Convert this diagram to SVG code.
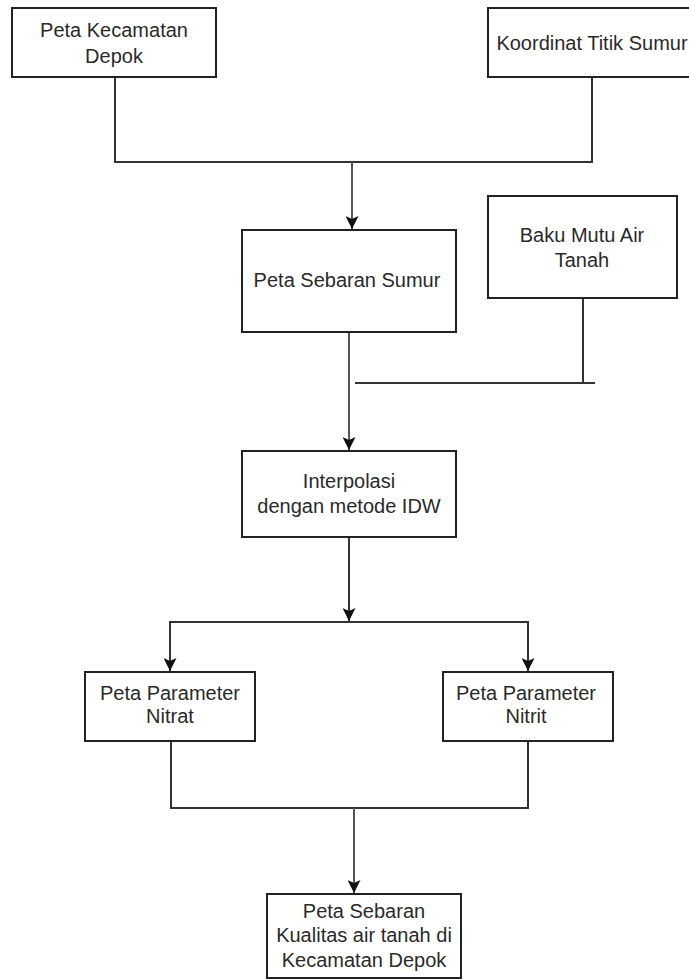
<svg xmlns="http://www.w3.org/2000/svg" width="689" height="979" viewBox="0 0 689 979">
<style>
.box{fill:#ffffff;stroke:#222222;stroke-width:2}
.ln{fill:none;stroke:#333333;stroke-width:2}
.ln2{fill:none;stroke:#555555;stroke-width:2}
.t{font-family:"Liberation Sans",Arial,sans-serif;font-size:20px;fill:#2a2a2a;text-anchor:middle}
</style>
<defs>
<marker id="arr" viewBox="0 0 13 13" refX="13" refY="6.5" markerWidth="13" markerHeight="13" markerUnits="userSpaceOnUse" orient="auto">
<path d="M0,0 L13,6.5 L0,13 L3,6.5 Z" fill="#111111"/>
</marker>
</defs>
<rect width="689" height="979" fill="#ffffff"/>
<g id="connectors">
<path class="ln" d="M115,77 V162 H592 V77"/>
<path class="ln2" d="M352,162 V229" marker-end="url(#arr)"/>
<path class="ln" d="M583,298 V383"/>
<path class="ln" d="M355,383 H595"/>
<path class="ln2" d="M349,332 V450" marker-end="url(#arr)"/>
<path class="ln" d="M349,537 V621" marker-end="url(#arr)"/>
<path class="ln" d="M170,671 V622 H528 V671" marker-end="url(#arr)"/>
<path class="ln" d="M170,622 V671" marker-end="url(#arr)"/>
<path class="ln" d="M171,741 V808 H528 V741"/>
<path class="ln2" d="M354,808 V893" marker-end="url(#arr)"/>
</g>
<g id="node-peta-kecamatan">
<rect class="box" x="12" y="8" width="204" height="69"/>
<text class="t" x="114" y="37">Peta Kecamatan</text>
<text class="t" x="114" y="63">Depok</text>
</g>
<g id="node-koordinat">
<rect class="box" x="488" y="8" width="210" height="69"/>
<text class="t" x="592" y="50">Koordinat Titik Sumur</text>
</g>
<g id="node-peta-sebaran-sumur">
<rect class="box" x="242" y="230" width="214" height="102"/>
<text class="t" x="347" y="287">Peta Sebaran Sumur</text>
</g>
<g id="node-baku-mutu">
<rect class="box" x="488" y="196" width="189" height="102"/>
<text class="t" x="582" y="242">Baku Mutu Air</text>
<text class="t" x="582" y="267">Tanah</text>
</g>
<g id="node-interpolasi">
<rect class="box" x="242" y="451" width="214" height="86"/>
<text class="t" x="349" y="488">Interpolasi</text>
<text class="t" x="349" y="513">dengan metode IDW</text>
</g>
<g id="node-nitrat">
<rect class="box" x="85" y="672" width="170" height="69"/>
<text class="t" x="170" y="700">Peta Parameter</text>
<text class="t" x="170" y="723">Nitrat</text>
</g>
<g id="node-nitrit">
<rect class="box" x="443" y="672" width="170" height="69"/>
<text class="t" x="526" y="700">Peta Parameter</text>
<text class="t" x="526" y="723">Nitrit</text>
</g>
<g id="node-peta-sebaran-kualitas">
<rect class="box" x="267" y="894" width="194" height="84"/>
<text class="t" x="364" y="918">Peta Sebaran</text>
<text class="t" x="364" y="942">Kualitas air tanah di</text>
<text class="t" x="364" y="967">Kecamatan Depok</text>
</g>
</svg>
